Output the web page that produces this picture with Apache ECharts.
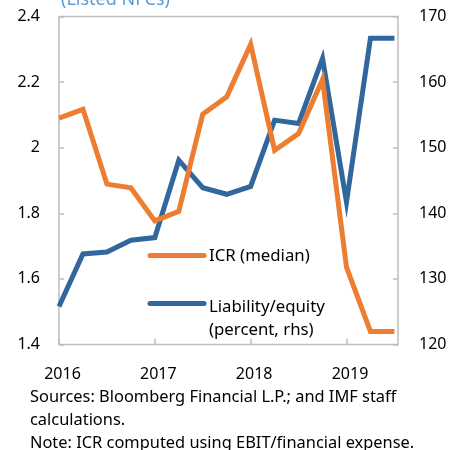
<!DOCTYPE html>
<html>
<head>
<meta charset="utf-8">
<script src="https://cdn.jsdelivr.net/npm/echarts@6/dist/echarts.min.js"></script>
<style>
html,body{margin:0;padding:0;background:#fff;}
#c{width:452px;height:450px;}
</style>
</head>
<body>
<div id="c"></div>
<script>
// Quarterly observations, 2016Q1 .. 2019Q3
var periods = ['2016Q1','2016Q2','2016Q3','2016Q4','2017Q1','2017Q2','2017Q3','2017Q4','2018Q1','2018Q2','2018Q3','2018Q4','2019Q1','2019Q2','2019Q3'];
var icrMedian = [2.09, 2.117, 1.889, 1.878, 1.777, 1.806, 2.102, 2.155, 2.315, 1.992, 2.043, 2.208, 1.636, 1.44, 1.44];
var liabilityEquity = [125.8, 133.8, 134.1, 135.9, 136.3, 148.1, 143.9, 142.9, 144.1, 154.2, 153.7, 163.6, 141.7, 166.7, 166.7];
var yearLabels = ['2016', '2017', '2018', '2019'];
var leftTicks = { min: 1.4, max: 2.4, step: 0.2 };
var rightTicks = { min: 120, max: 170, step: 10 };
var titleText = '(Listed NFCs)';
var legendNames = ['ICR (median)', 'Liability/equity', '(percent, rhs)'];
var notes = ['Sources: Bloomberg Financial L.P.; and IMF staff', 'calculations.', 'Note: ICR computed using EBIT/financial expense.'];

var FONT = '"Noto Sans", sans-serif';
var ORANGE = '#ED7D31';
var BLUE = '#31679C';
var GREY = '#BFBFBF';

var chart = echarts.init(document.getElementById('c'));

function pairs(arr) { return arr.map(function (v, i) { return [i, v]; }); }

var option = {
  backgroundColor: '#fff',
  animation: false,
  grid: { left: 59, right: 54, top: 16.5, bottom: 105.5, show: true, borderColor: GREY, borderWidth: 1.5, backgroundColor: 'transparent' },
  xAxis: {
    type: 'value', min: 0, max: 14.15, interval: 4,
    axisLine: { show: false },
    axisTick: { show: true, inside: true, length: 6, lineStyle: { color: GREY, width: 1.5 } },
    splitLine: { show: false },
    axisLabel: {
      margin: 22, color: '#000', fontSize: 16, fontFamily: FONT, padding: [0, 0, 0, 7],
      showMaxLabel: false,
      formatter: function (v) { var k = Math.round(v / 4); return yearLabels[k] || ''; }
    }
  },
  yAxis: [{
    type: 'value', min: leftTicks.min, max: leftTicks.max, interval: leftTicks.step,
    axisLine: { show: false },
    axisTick: { show: true, inside: true, length: 5, lineStyle: { color: GREY, width: 1.5 } },
    splitLine: { show: false },
    axisLabel: { margin: 19, color: '#000', fontSize: 16, fontFamily: FONT,
      formatter: function (v) { return String(Math.round(v * 10) / 10); } }
  }, {
    type: 'value', min: rightTicks.min, max: rightTicks.max, interval: rightTicks.step,
    position: 'right',
    axisLine: { show: false },
    axisTick: { show: true, inside: true, length: 5, lineStyle: { color: GREY, width: 1.5 } },
    splitLine: { show: false },
    axisLabel: { margin: 21, color: '#000', fontSize: 16, fontFamily: FONT }
  }],
  series: [{
    name: legendNames[1], type: 'line', yAxisIndex: 1, data: pairs(liabilityEquity),
    showSymbol: false, lineStyle: { color: BLUE, width: 5, join: 'miter' }, itemStyle: { color: BLUE }
  }, {
    name: legendNames[0], type: 'line', yAxisIndex: 0, data: pairs(icrMedian),
    showSymbol: false, lineStyle: { color: ORANGE, width: 5, join: 'miter' }, itemStyle: { color: ORANGE }
  }],
  graphic: [
    { type: 'text', left: 61, top: -9, style: { text: titleText, fill: '#5B9BD5', font: '18px ' + FONT } },
    { type: 'line', shape: { x1: 150, y1: 255.5, x2: 204, y2: 255.5 }, style: { stroke: ORANGE, lineWidth: 5, lineCap: 'round' } },
    { type: 'text', x: 209, y: 256, style: { text: legendNames[0], fill: '#000', font: '16.8px ' + FONT, verticalAlign: 'middle' } },
    { type: 'line', shape: { x1: 150, y1: 303.5, x2: 204, y2: 303.5 }, style: { stroke: BLUE, lineWidth: 5, lineCap: 'round' } },
    { type: 'text', x: 209, y: 307, style: { text: legendNames[1], fill: '#000', font: '16.8px ' + FONT, verticalAlign: 'middle' } },
    { type: 'text', x: 209, y: 330, style: { text: legendNames[2], fill: '#000', font: '16.8px ' + FONT, verticalAlign: 'middle' } },
    { type: 'text', x: 30, y: 397, style: { text: notes[0], fill: '#000', font: '16.4px ' + FONT, verticalAlign: 'middle' } },
    { type: 'text', x: 30, y: 420, style: { text: notes[1], fill: '#000', font: '16.4px ' + FONT, verticalAlign: 'middle' } },
    { type: 'text', x: 30, y: 443, style: { text: notes[2], fill: '#000', font: '16.4px ' + FONT, verticalAlign: 'middle' } }
  ]
};
chart.setOption(option);
</script>
</body>
</html>
